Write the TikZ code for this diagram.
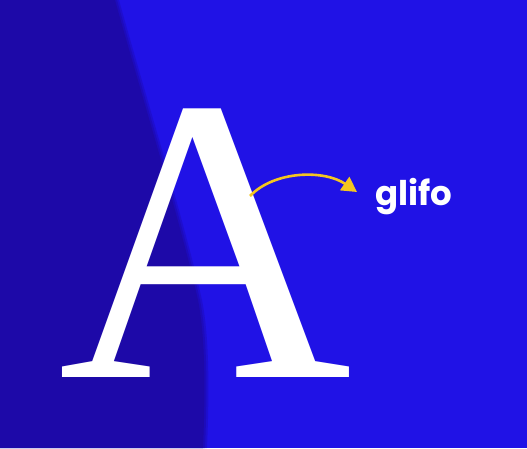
\documentclass[tikz,border=0pt]{standalone}
\usepackage{fontspec}
\newfontfamily\glyphfont{Liberation Serif}
\newfontfamily\glifofont{Poppins}[UprightFont=* Bold]
\usetikzlibrary{arrows.meta}
\definecolor{bgbright}{HTML}{2012E6}
\definecolor{bgdark}{HTML}{1D09A8}
\definecolor{arrowyellow}{HTML}{F4C620}
\tikzset{
  glyph/.style={inner sep=0pt, text=white, font=\glyphfont\fontsize{407}{407}\selectfont},
  label/.style={inner sep=0pt, text=white, font=\glifofont\fontsize{34}{34}\selectfont},
  pointer/.style={draw=arrowyellow, line width=2.6pt,
    -{Triangle[length=15pt,width=16pt]}},
  darkband/.style={fill=bgdark, fill opacity=#1}
}
\begin{document}
\begin{tikzpicture}[x=1pt,y=-1pt]
  \useasboundingbox (0,0) rectangle (527,448);
  \fill[bgbright] (0,0) rectangle (527,448);
  \foreach \d/\o in {4/0.35,2/0.5,0/1} {
    \fill[darkband=\o] (0,0) -- (115+\d,0) .. controls (140+\d,90) and (180+\d,220) .. (198+\d,300)
      .. controls (206+\d,340) and (205+\d,400) .. (203+\d,448) -- (0,448) -- cycle;
  }
  \node[glyph, anchor=base west] (A) at (58,377) {A};
  \node[label, anchor=base west] (glifo) at (375,205) {glifo};
  \coordinate (start) at (250,196);
  \coordinate (tip) at (357,192);
  \draw[pointer] (start) .. controls (275,170) and (325,170) .. (tip);
\end{tikzpicture}
\end{document}
